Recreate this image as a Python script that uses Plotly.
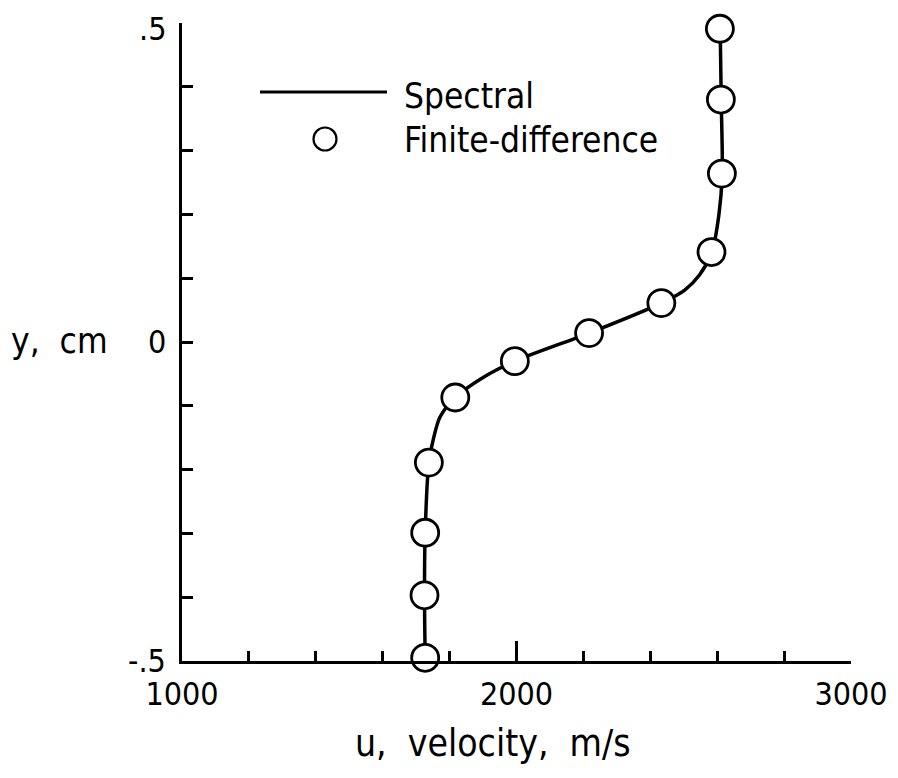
import plotly.graph_objects as go

# Finite-difference points (u in m/s, y in cm)
fd_u = [2608, 2611, 2614, 2583, 2433, 2217, 1995, 1817, 1738, 1727, 1725, 1727]
fd_y = [0.491, 0.380, 0.264, 0.141, 0.061, 0.014, -0.030, -0.087, -0.189, -0.299, -0.397, -0.495]

# Spectral solution
sp_u = [2609, 2612, 2615, 2605, 2584, 2547, 2502, 2433, 2217, 1995, 1905, 1817, 1771, 1746, 1738, 1727, 1725, 1727]
sp_y = [0.491, 0.380, 0.264, 0.199, 0.141, 0.105, 0.081, 0.061, 0.014, -0.030, -0.054, -0.087,
        -0.118, -0.165, -0.189, -0.299, -0.397, -0.495]

x_ticks = [1000, 2000, 3000]
x_labels = ["1000", "2000", "3000"]
y_ticks = [-0.5, 0, 0.5]
y_labels = ["-.5", "0", ".5"]

FONT = "DejaVu Sans Condensed, Liberation Sans Narrow, sans-serif"

OFF = 8  # page body margin
W, H = 898 - 2 * OFF, 778 - 2 * OFF
# plot area in screenshot pixels
SX0, SX1, SY0, SY1 = 182, 851, 23, 661
L, T = SX0 - OFF, SY0 - OFF
R, B = W - (SX1 - OFF), H - (SY1 - OFF)
pw, ph = SX1 - SX0, SY1 - SY0

def px(x):
    return (x - SX0) / pw

def py(y):
    return (SY1 - y) / ph

fig = go.Figure()
fig.add_trace(go.Scatter(x=sp_u, y=sp_y, mode="lines", line=dict(color="black", width=3.5, shape="spline", smoothing=0.8),
                         cliponaxis=False, showlegend=False, hoverinfo="skip"))
fig.add_trace(go.Scatter(x=fd_u, y=fd_y, mode="markers",
                         marker=dict(symbol="circle", size=27, color="white", line=dict(color="black", width=2.8)),
                         cliponaxis=False, showlegend=False))

# y tick labels as annotations (keeps the top label inside the page)
for v, t in zip(y_ticks, y_labels):
    if v == max(y_ticks):
        fig.add_annotation(text=t, xref="paper", yref="paper", x=px(168), y=py(SY0 - 15), xanchor="right",
                           yanchor="top", showarrow=False, font=dict(family=FONT, size=32, color="black"))
    else:
        fig.add_annotation(text=t, xref="paper", yref="y", x=px(168), y=v, xanchor="right",
                           yanchor="middle", showarrow=False, font=dict(family=FONT, size=32, color="black"))

# legend drawn manually
fig.add_shape(type="line", xref="paper", yref="paper", x0=px(260), x1=px(387), y0=py(92), y1=py(92),
              line=dict(color="black", width=3))
r = 11.5
fig.add_shape(type="circle", xref="paper", yref="paper", x0=px(325 - r), x1=px(325 + r), y0=py(139 + r), y1=py(139 - r),
              line=dict(color="black", width=2.2), fillcolor="white")
fig.add_annotation(text="Spectral", xref="paper", yref="paper", x=px(402), y=py(96), xanchor="left", yanchor="middle",
                   showarrow=False, font=dict(family=FONT, size=35, color="black"))
fig.add_annotation(text="Finite-difference", xref="paper", yref="paper", x=px(402), y=py(140), xanchor="left",
                   yanchor="middle", showarrow=False, font=dict(family=FONT, size=35, color="black"))

# axis titles
fig.add_annotation(text="u,\u00a0\u00a0velocity,\u00a0\u00a0m/s", xref="paper", yref="paper", x=px(493), y=py(743),
                   xanchor="center", yanchor="middle", showarrow=False, font=dict(family=FONT, size=37, color="black"))
fig.add_annotation(text="y,\u00a0\u00a0cm", xref="paper", yref="paper", x=px(9), y=py(341),
                   xanchor="left", yanchor="middle", showarrow=False, font=dict(family=FONT, size=35, color="black"))

fig.update_layout(
    width=W, height=H,
    margin=dict(l=L, r=R, t=T, b=B, autoexpand=False),
    paper_bgcolor="white", plot_bgcolor="white",
    font=dict(family=FONT, size=32, color="black"),
    xaxis=dict(range=[1000, 3000], showgrid=False, zeroline=False, showline=True, linecolor="black", linewidth=3,
               ticks="inside", ticklen=20, tickwidth=2.5, tickcolor="black", automargin=False,
               tickvals=x_ticks, ticktext=x_labels, ticklabelstandoff=3, ticklabeloverflow="allow",
               minor=dict(dtick=200, tick0=1000, ticks="inside", ticklen=10, tickwidth=2.5, tickcolor="black", showgrid=False)),
    yaxis=dict(range=[-0.5, 0.5], showgrid=False, zeroline=False, showline=True, linecolor="black", linewidth=3,
               ticks="inside", ticklen=11, tickwidth=3, tickcolor="black", automargin=False,
               tickvals=y_ticks, showticklabels=False,
               minor=dict(dtick=0.1, tick0=0, ticks="inside", ticklen=11, tickwidth=2.5, tickcolor="black", showgrid=False)),
)

fig.write_html("out.html")
